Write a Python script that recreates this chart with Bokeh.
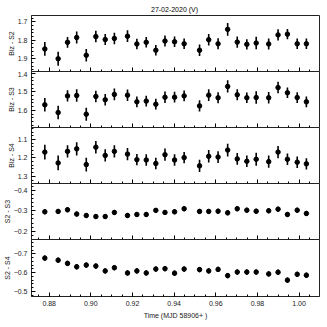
from bokeh.plotting import figure
from bokeh.layouts import column
from bokeh.models import FixedTicker, Range1d, CustomLabelingPolicy, PrintfTickFormatter
from bokeh.embed import file_html
from bokeh.resources import INLINE
import numpy as np

title_text = "27-02-2020  (V)"
x_label = "Time (MJD 58906+ )"

time = [0.8779, 0.8843, 0.8888, 0.8932, 0.8978, 0.9024, 0.9069, 0.9113, 0.9176,
        0.9221, 0.9266, 0.9312, 0.9356, 0.9402, 0.9448, 0.9522, 0.9566, 0.9611,
        0.9657, 0.9703, 0.9749, 0.9794, 0.9854, 0.9899, 0.9944, 0.9991, 1.0035]

blz_s2 = [1.847, 1.900, 1.811, 1.785, 1.881, 1.780, 1.796, 1.790, 1.778, 1.820, 1.811,
          1.854, 1.804, 1.808, 1.819, 1.854, 1.797, 1.819, 1.741, 1.810, 1.822, 1.815,
          1.820, 1.771, 1.767, 1.819, 1.819]
blz_s3 = [1.570, 1.612, 1.522, 1.520, 1.621, 1.525, 1.543, 1.514, 1.518, 1.554, 1.550,
          1.567, 1.529, 1.529, 1.522, 1.576, 1.518, 1.532, 1.471, 1.516, 1.532, 1.531,
          1.532, 1.477, 1.505, 1.531, 1.554]
blz_s4 = [1.168, 1.227, 1.164, 1.150, 1.236, 1.141, 1.186, 1.164, 1.179, 1.209, 1.211,
          1.230, 1.182, 1.211, 1.198, 1.243, 1.191, 1.195, 1.157, 1.205, 1.218, 1.207,
          1.220, 1.168, 1.207, 1.223, 1.232]
s2_s3 = [-0.295, -0.297, -0.305, -0.284, -0.277, -0.272, -0.272, -0.292, -0.277, -0.282,
         -0.282, -0.302, -0.292, -0.295, -0.310, -0.297, -0.297, -0.298, -0.290, -0.310,
         -0.303, -0.298, -0.300, -0.308, -0.282, -0.303, -0.287]
s2_s4 = [-0.677, -0.666, -0.649, -0.631, -0.640, -0.635, -0.609, -0.626, -0.598, -0.609,
         -0.598, -0.619, -0.621, -0.597, -0.619, -0.616, -0.609, -0.617, -0.584, -0.603,
         -0.603, -0.603, -0.593, -0.602, -0.560, -0.591, -0.586]

err_blz_s2 = [0.037, 0.038, 0.029, 0.033, 0.034, 0.031, 0.030, 0.031, 0.032, 0.028, 0.028,
              0.028, 0.030, 0.028, 0.028, 0.031, 0.031, 0.030, 0.034, 0.030, 0.028, 0.034,
              0.030, 0.030, 0.028, 0.028, 0.028]
err_blz_s3 = [0.036, 0.037, 0.030, 0.034, 0.035, 0.031, 0.031, 0.032, 0.031, 0.029, 0.029,
              0.029, 0.031, 0.029, 0.029, 0.031, 0.032, 0.030, 0.033, 0.030, 0.029, 0.034,
              0.031, 0.031, 0.029, 0.029, 0.029]
err_blz_s4 = [0.040, 0.040, 0.033, 0.036, 0.037, 0.034, 0.033, 0.034, 0.033, 0.031, 0.031,
              0.031, 0.033, 0.031, 0.031, 0.033, 0.034, 0.032, 0.035, 0.032, 0.031, 0.036,
              0.033, 0.033, 0.031, 0.031, 0.031]
err_s2_s3 = [0.012] * 27
err_s2_s4 = [0.014] * 27

x_ticks = [0.88, 0.90, 0.92, 0.94, 0.96, 0.98, 1.00]

panels = [
    ("Blz - S2", blz_s2, err_blz_s2, (1.969, 1.666), [1.7, 1.8, 1.9]),
    ("Blz - S3", blz_s3, err_blz_s3, (1.693, 1.390), [1.4, 1.5, 1.6]),
    ("Blz - S4", blz_s4, err_blz_s4, (1.339, 1.034), [1.1, 1.2, 1.3]),
    ("S2 - S3", s2_s3, err_s2_s3, (-0.160, -0.433), [-0.4, -0.3, -0.2]),
    ("S2 - S4", s2_s4, err_s2_s4, (-0.473, -0.776), [-0.7, -0.6, -0.5]),
]

FONT = "Liberation Sans"
TXT = "#222222"
x_range = Range1d(0.8715, 1.0098)
x_minor = [round(v, 4) for v in np.arange(0.870, 1.0101, 0.005)]
heights = [56, 56, 56, 56, 57]
OVERLAP = 4

figs = []
for i, (lab, vals, errs, yr, yt) in enumerate(panels):
    last = i == len(panels) - 1
    first = i == 0
    p = figure(frame_width=288, frame_height=heights[i],
               title=(title_text if first else None),
               x_range=x_range, y_range=Range1d(*yr),
               output_backend="svg", toolbar_location=None,
               min_border_left=26, min_border_right=5,
               min_border_top=0, min_border_bottom=0,
               margin=((0 if first else -OVERLAP), 0, 0, 0))
    p.grid.visible = False
    p.outline_line_color = "#222222"
    p.outline_line_width = 1
    p.background_fill_color = "white"
    p.border_fill_color = "white"
    if first:
        p.title.align = "center"
        p.title.text_font = FONT
        p.title.text_font_size = "7px"
        p.title.text_font_style = "normal"
        p.title.text_color = "black"
        p.title.standoff = 6
        p.title.offset = 0
    lo = [v - e for v, e in zip(vals, errs)]
    hi = [v + e for v, e in zip(vals, errs)]
    p.segment(x0=time, y0=lo, x1=time, y1=hi, line_color="black", line_width=1.6)
    p.scatter(x=time, y=vals, size=4.5, color="black")

    ymin, ymax = min(yr), max(yr)
    y_minor = [round(v, 3) for v in np.arange(yt[0] - 0.1, yt[-1] + 0.1001, 0.02)
               if ymin <= v <= ymax]
    p.yaxis.ticker = FixedTicker(ticks=yt, minor_ticks=y_minor)
    p.yaxis.axis_label = lab
    p.yaxis.axis_label_text_font = FONT
    p.yaxis.axis_label_text_font_size = "7px"
    p.yaxis.axis_label_text_font_style = "normal"
    p.yaxis.axis_label_text_color = TXT
    p.yaxis.axis_label_standoff = 0
    p.yaxis.major_label_text_font = FONT
    p.yaxis.major_label_text_font_size = "7px"
    p.yaxis.major_label_text_color = TXT
    p.yaxis.major_label_standoff = 4
    p.yaxis.major_tick_in = 4
    p.yaxis.major_tick_out = 0
    p.yaxis.minor_tick_in = 2
    p.yaxis.minor_tick_out = 0
    p.yaxis.axis_line_color = "#222222"

    p.xaxis.ticker = FixedTicker(ticks=x_ticks, minor_ticks=x_minor)
    p.xaxis.formatter = PrintfTickFormatter(format="%.2f")
    p.xaxis.major_tick_in = 4
    p.xaxis.major_tick_out = 0
    p.xaxis.minor_tick_in = 2
    p.xaxis.minor_tick_out = 0
    p.xaxis.axis_line_color = "#222222"
    if last:
        p.xaxis.axis_label = x_label
        p.xaxis.axis_label_text_font = FONT
        p.xaxis.axis_label_text_font_size = "7px"
        p.xaxis.axis_label_text_font_style = "normal"
        p.xaxis.axis_label_text_color = TXT
        p.xaxis.axis_label_standoff = 3
        p.xaxis.major_label_text_font = FONT
        p.xaxis.major_label_text_font_size = "7px"
        p.xaxis.major_label_text_color = TXT
        p.xaxis.major_label_standoff = 4
    else:
        p.xaxis.major_label_policy = CustomLabelingPolicy(
            code="for (const i of indices) { indices.unset(i) }\nreturn indices")
        p.xaxis.major_label_text_font_size = "1px"
        p.xaxis.major_label_standoff = 0
    figs.append(p)

layout = column(*figs, spacing=0)
open("out.html", "w").write(file_html(layout, INLINE))
